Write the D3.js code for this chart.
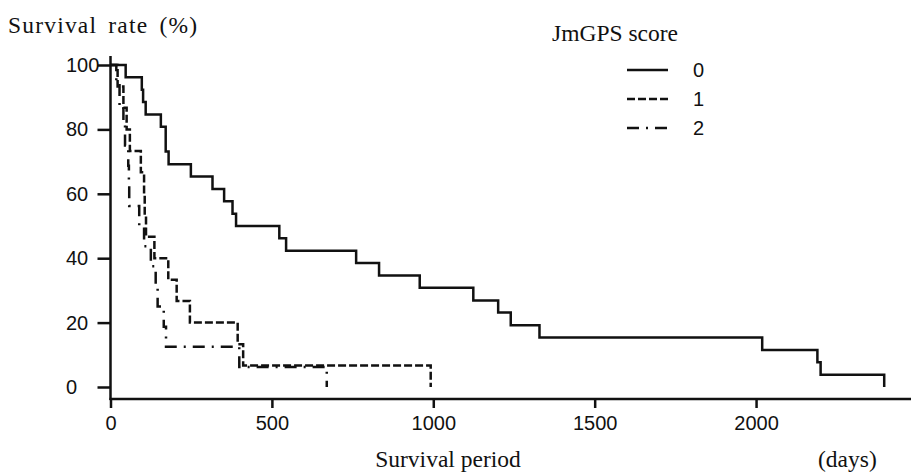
<!DOCTYPE html>
<html>
<head>
    <title>Survival by JmGPS score</title>
    <script src="https://cdn.jsdelivr.net/npm/d3@7/dist/d3.min.js"></script>
    <style>
        body {
            margin: 0;
            background: #fff;
        }
        .serif {
            font-family: "Liberation Serif", "Times New Roman", serif;
            font-size: 23.5px;
            fill: #111;
        }
        .tick text, .legend-label {
            font-family: "Liberation Sans", Arial, sans-serif;
            font-size: 20px;
            fill: #111;
        }
    </style>
</head>
<body>
    <svg width="911" height="475" id="mainsvg" style="display: block;"></svg>
    <script>
        // Kaplan-Meier steps (day of event, survival % after it)
        const days0 = [0, 47, 97, 101, 109, 156, 171, 180, 249, 316, 352, 378, 389, 523, 544, 761, 832, 958, 1124, 1201, 1240, 1329, 2019, 2190, 2200, 2397];
        const surv0 = [100, 96.2, 92.3, 88.5, 84.6, 80.8, 73.1, 69.2, 65.4, 61.5, 57.7, 53.8, 50, 46.2, 42.3, 38.5, 34.6, 30.8, 26.9, 23.1, 19.2, 15.4, 11.5, 7.7, 3.8, 0];

        const days1 = [0, 22, 40, 50, 60, 94, 104, 106, 110, 136, 179, 205, 246, 394, 411, 992];
        const surv1 = [100, 93.3, 86.7, 80, 73.3, 66.7, 60, 53.3, 46.7, 40, 33.3, 26.7, 20, 13.3, 6.7, 0];

        const days2 = [0, 18, 28, 40, 45, 55, 57, 58, 89, 104, 125, 140, 146, 165, 172, 399, 670];
        const surv2 = [100, 93.75, 87.5, 81.25, 75, 68.75, 62.5, 56.25, 50, 43.75, 37.5, 31.25, 25, 18.75, 12.5, 6.25, 0];

        const groups = ['0', '1', '2'];
        const xTicks = [0, 500, 1000, 1500, 2000];
        const yTicks = [0, 20, 40, 60, 80, 100];

        const series = [
            { name: groups[0], days: days0, surv: surv0, dash: null },
            { name: groups[1], days: days1, surv: surv1, dash: '8,3' },
            { name: groups[2], days: days2, surv: surv2, dash: '12,7,2,7' }
        ];

        const svg = d3.select('#mainsvg');
        const width = +svg.attr('width');

        const x = d3.scaleLinear().domain([0, 2480]).range([110.5, width]);
        const y = d3.scaleLinear().domain([0, 100]).range([387, 65]);
        const axisY = 399;   // the x axis sits a little below the 0 % tick

        // axes
        svg.append('line')
            .attr('x1', x(0)).attr('x2', x(0))
            .attr('y1', 56).attr('y2', axisY + 1)
            .attr('stroke', '#111').attr('stroke-width', 2.5);
        svg.append('line')
            .attr('x1', x(0) - 1).attr('x2', width)
            .attr('y1', axisY).attr('y2', axisY)
            .attr('stroke', '#111').attr('stroke-width', 2.5);

        const xAxis = svg.append('g')
            .attr('transform', `translate(0, ${axisY})`)
            .call(d3.axisBottom(x).tickValues(xTicks).tickSize(9).tickPadding(8).tickFormat(d3.format('d')));
        xAxis.select('.domain').remove();

        const yAxis = svg.append('g')
            .attr('transform', `translate(${x(0)}, 0)`)
            .call(d3.axisLeft(y).tickValues(yTicks).tickSize(13).tickFormat(d3.format('d')));
        yAxis.select('.domain').remove();
        yAxis.selectAll('.tick text')
            .attr('text-anchor', 'start')
            .attr('x', 66 - x(0));

        svg.selectAll('.tick line')
            .attr('stroke', '#111')
            .attr('stroke-width', 2.5);

        // survival curves
        const line = d3.line()
            .x(d => x(d[0]))
            .y(d => y(d[1]))
            .curve(d3.curveStepAfter);

        svg.append('g').selectAll('path')
            .data(series)
            .join('path')
                .attr('d', s => line(d3.zip(s.days, s.surv)))
                .attr('fill', 'none')
                .attr('stroke', '#111')
                .attr('stroke-width', 2.5)
                .attr('stroke-dasharray', s => s.dash);

        // legend
        const legend = svg.append('g');
        legend.append('text')
            .attr('class', 'serif')
            .attr('x', 552)
            .attr('y', 41)
            .text('JmGPS score');

        const item = legend.selectAll('g.item')
            .data(series)
            .join('g')
                .attr('class', 'item')
                .attr('transform', (d, i) => `translate(627, ${70 + i * 29})`);
        item.append('line')
            .attr('x1', 0).attr('x2', 41)
            .attr('stroke', '#111')
            .attr('stroke-width', 2.5)
            .attr('stroke-dasharray', d => d.dash);
        item.append('text')
            .attr('class', 'legend-label')
            .attr('x', 66)
            .attr('dy', '0.35em')
            .text(d => d.name);

        // titles
        svg.append('text')
            .attr('class', 'serif')
            .attr('x', 8)
            .attr('y', 33)
            .attr('letter-spacing', '1.2px')
            .attr('word-spacing', '4px')
            .text('Survival rate (%)');
        svg.append('text')
            .attr('class', 'serif')
            .attr('x', 448)
            .attr('y', 467)
            .attr('text-anchor', 'middle')
            .text('Survival period');
        svg.append('text')
            .attr('class', 'serif')
            .attr('x', 818)
            .attr('y', 467)
            .text('(days)');
    </script>
</body>
</html>
